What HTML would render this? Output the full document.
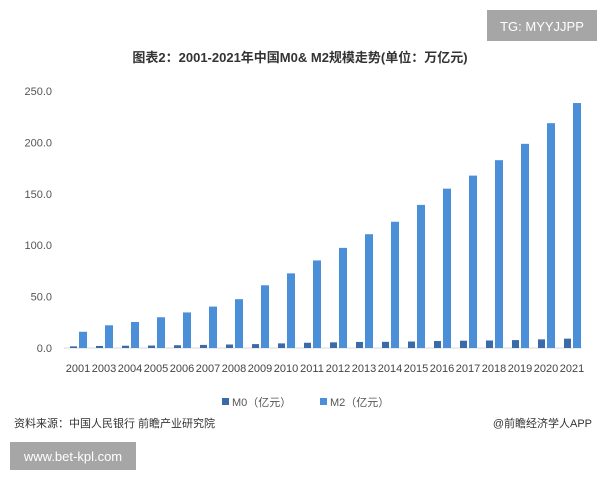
<!DOCTYPE html>
<html><head><meta charset="utf-8"><style>
body{margin:0;width:600px;height:480px;background:#fff;overflow:hidden;font-family:"Liberation Sans","Noto Sans CJK SC",sans-serif;}
</style></head><body>
<svg id="c" width="600" height="480" xmlns="http://www.w3.org/2000/svg">
<rect x="487" y="10" width="110" height="31" fill="#a6a6a6"/>
<text x="542" y="31" font-size="13" fill="#fff" text-anchor="middle">TG: MYYJJPP</text>
<text x="300" y="62" font-size="13" font-weight="bold" fill="#333" text-anchor="middle">图表2：2001-2021年中国M0&amp; M2规模走势(单位：万亿元)</text>
<g id="axes"></g><g id="bars"></g>
<g>
<rect x="222" y="398" width="7" height="7" fill="#3b6aa8"/>
<text x="232" y="406" font-size="11" fill="#555">M0（亿元）</text>
<rect x="320" y="398" width="7" height="7" fill="#4a8fd8"/>
<text x="330" y="406" font-size="11" fill="#555">M2（亿元）</text>
</g>
<text x="14" y="427" font-size="11" fill="#333">资料来源：中国人民银行 前瞻产业研究院</text>
<text x="592" y="427" font-size="11" fill="#333" text-anchor="end">@前瞻经济学人APP</text>
<rect x="10" y="442" width="126" height="28" fill="#a6a6a6"/>
<text x="73" y="461" font-size="13" fill="#fff" text-anchor="middle">www.bet-kpl.com</text>
</svg>
<script>
const categories=["2001","2003","2004","2005","2006","2007","2008","2009","2010","2011","2012","2013","2014","2015","2016","2017","2018","2019","2020","2021"];
const m0=[1.6,2.0,2.2,2.4,2.7,3.0,3.4,3.8,4.5,5.1,5.5,5.9,6.0,6.3,6.8,7.1,7.3,7.7,8.4,9.1];
const m2=[15.8,22.1,25.3,29.9,34.6,40.3,47.5,61.0,72.6,85.2,97.4,110.7,122.8,139.2,155.0,167.7,182.7,198.6,218.7,238.3];
const yTicks=[0,50,100,150,200,250];
const NS="http://www.w3.org/2000/svg";
const y0=348,yTop=91,yMax=250;
const y=v=>y0-(v/yMax)*(y0-yTop);
const x=i=>78+i*((572-78)/(categories.length-1));
const ax=document.getElementById('axes'),bg=document.getElementById('bars');
function mk(tag,at,parent){const e=document.createElementNS(NS,tag);for(const k in at)e.setAttribute(k,at[k]);parent.appendChild(e);return e;}
const base=mk('line',{x1:64,x2:582,y1:y0,y2:y0,stroke:'#d9d9d9'},ax);


yTicks.forEach(t=>{const e=mk('text',{x:52,y:y(t)+4,'font-size':11,fill:'#555','text-anchor':'end'},ax);e.textContent=t.toFixed(1);

});
categories.forEach((c,i)=>{const e=mk('text',{x:x(i),y:372,'font-size':11,fill:'#444','text-anchor':'middle'},ax);e.textContent=c;


const a=mk('rect',{x:x(i)-8,y:y(m0[i]),width:7,height:y0-y(m0[i]),fill:'#3b6aa8'},bg);


const b=mk('rect',{x:x(i)+1,y:y(m2[i]),width:8,height:y0-y(m2[i]),fill:'#4a8fd8'},bg);

});
</script>
</body></html>
